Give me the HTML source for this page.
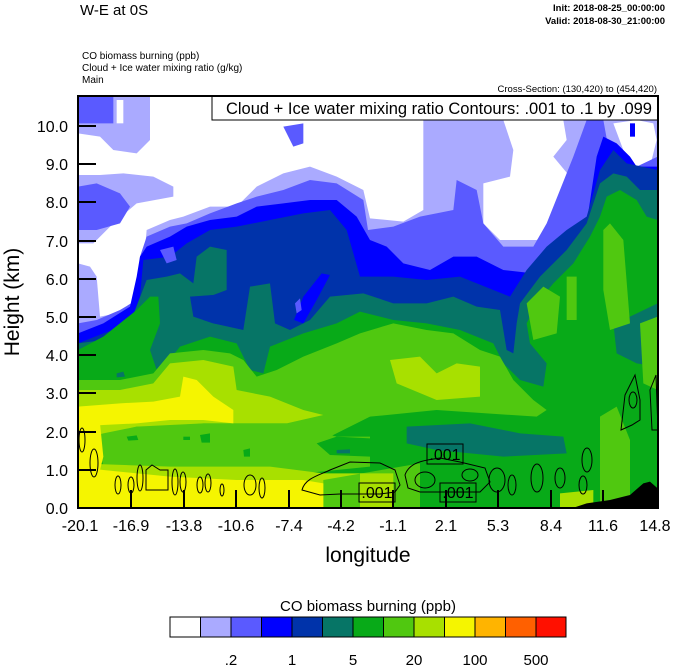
<!DOCTYPE html>
<html><head><meta charset="utf-8"><style>
html,body{margin:0;padding:0;background:#fff;}
svg{display:block;font-family:"Liberation Sans",sans-serif;}
</style></head><body>
<svg width="674" height="667" viewBox="0 0 674 667" xmlns="http://www.w3.org/2000/svg">
<defs><clipPath id="pc"><rect x="78" y="96" width="580" height="412"/></clipPath></defs>
<g clip-path="url(#pc)">
<rect x="78" y="96" width="580" height="412" fill="#aaaaff"/>
<g transform="translate(70,90) scale(0.33333)">
<polygon fill="#ffffff" points="240,20 1060,20 1060,360 1000,395 900,385 880,300 800,260 720,230 640,250 560,290 500,350 420,350 340,380 300,390 230,420 210,640 140,670 90,680 80,560 60,530 24,520 24,460 70,460 130,400 200,340 310,320 310,290 250,260 160,250 90,255 24,255 24,130 90,140 130,180 200,190 240,150"/>
<polygon fill="#ffffff" points="1300,90 1480,90 1490,150 1450,200 1500,260 1520,300 1500,400 1400,450 1290,450 1240,400 1240,280 1320,260 1330,180"/>
<polygon fill="#ffffff" points="1630,100 1700,90 1750,100 1760,150 1740,230 1700,250 1660,180"/>
<polygon fill="#ffffff" points="140,30 160,30 160,100 140,100"/>
<polygon fill="#5a5aff" points="24,20 130,20 130,100 24,100"/>
<polygon fill="#5a5aff" points="24,290 80,280 150,310 180,350 150,400 80,420 24,420"/>
<polygon fill="#5a5aff" points="640,110 700,100 700,160 670,170"/>
<polygon fill="#5a5aff" points="24,700 80,690 150,660 200,630 210,500 230,440 300,410 350,400 420,370 500,340 560,320 640,300 720,270 800,280 880,330 894,420 970,410 1050,380 1150,360 1160,270 1220,300 1240,400 1300,470 1390,470 1430,400 1470,300 1510,200 1550,90 1600,90 1620,200 1650,260 1700,230 1763,200 1763,1260 24,1260"/>
<polygon fill="#0000ff" points="24,730 100,700 180,650 200,560 210,500 230,470 300,440 350,410 420,390 500,380 560,350 640,340 720,330 800,330 860,380 900,450 950,470 1000,520 1080,540 1150,500 1220,500 1300,540 1390,550 1440,510 1500,470 1550,400 1580,200 1600,140 1640,160 1680,200 1700,230 1763,230 1763,1260 24,1260"/>
<polygon fill="#0000ff" points="1680,100 1695,100 1695,140 1680,140"/>
<polygon fill="#0033aa" points="24,760 100,730 180,700 210,620 220,510 300,500 350,460 420,420 500,410 600,390 700,370 780,360 830,420 870,560 970,560 1070,570 1170,560 1270,600 1320,620 1370,540 1430,470 1490,420 1550,380 1590,240 1630,180 1670,220 1763,240 1763,1260 24,1260"/>
<polygon fill="#5a5aff" points="270,480 310,470 320,510 290,520"/>
<polygon fill="#067566" points="24,760 100,750 180,700 230,570 290,560 330,550 370,580 380,500 420,470 470,480 470,600 430,615 380,620 370,660 400,690 430,700 520,720 540,590 600,580 615,700 660,720 720,690 780,620 880,610 970,640 1070,640 1150,620 1220,650 1290,660 1310,780 1330,790 1340,700 1350,640 1410,560 1490,480 1550,400 1590,280 1630,250 1670,260 1710,300 1763,300 1763,1260 24,1260"/>
<polygon fill="#0033aa" points="360,620 430,615 470,610 500,640 520,715 430,700 400,690 370,680"/>
<polygon fill="#0000ff" points="700,620 755,550 780,555 740,630 700,700 672,690"/>
<polygon fill="#5a5aff" points="675,640 690,625 695,660 680,670"/>
<polygon fill="#08aa18" points="24,780 100,740 200,660 240,620 265,620 270,700 240,780 260,840 290,820 330,770 420,740 500,760 540,840 580,850 600,770 700,730 800,700 870,665 970,690 1070,700 1170,720 1270,760 1300,820 1350,870 1420,890 1430,820 1380,760 1370,700 1400,640 1450,580 1510,520 1560,440 1590,380 1610,320 1650,300 1700,330 1730,380 1763,390 1763,1260 24,1260"/>
<polygon fill="#067566" points="1630,700 1680,680 1763,640 1763,830 1700,820 1640,790"/>
<polygon fill="#067566" points="140,850 160,845 165,860 140,862"/>
<polygon fill="#50c810" points="24,870 150,870 250,850 300,790 400,780 480,790 520,810 560,860 620,840 700,800 800,760 870,730 970,700 1070,720 1150,730 1230,780 1290,800 1330,870 1390,930 1430,960 1400,980 1100,960 900,980 780,1040 24,1040"/>
<polygon fill="#50c810" points="1600,420 1620,400 1660,450 1680,700 1620,720 1600,600"/>
<polygon fill="#50c810" points="1370,640 1420,590 1470,620 1460,730 1390,750"/>
<polygon fill="#50c810" points="1490,560 1520,560 1520,690 1490,690"/>
<polygon fill="#50c810" points="1710,700 1763,680 1763,900 1720,880"/>
<polygon fill="#50c810" points="1590,980 1640,950 1680,1050 1680,1255 1590,1255"/>
<polygon fill="#a8e000" points="24,900 150,900 250,880 300,820 400,810 490,830 500,900 600,920 700,960 760,975 650,1000 500,1000 400,1000 300,1010 200,1010 100,1030 24,1050"/>
<polygon fill="#a8e000" points="960,810 1050,800 1100,850 1160,820 1230,830 1230,920 1100,930 980,880"/>
<polygon fill="#50c810" points="80,1040 200,1010 400,1000 650,1000 800,1040 900,1040 900,1130 700,1150 600,1140 400,1140 200,1150 100,1130"/>
<polygon fill="#08aa18" points="170,1040 200,1036 205,1050 175,1052"/>
<polygon fill="#08aa18" points="390,1035 420,1030 420,1058 395,1058"/>
<polygon fill="#08aa18" points="340,1040 360,1040 360,1050 340,1050"/>
<polygon fill="#08aa18" points="520,1080 540,1075 540,1100 522,1100"/>
<polygon fill="#08aa18" points="740,1060 800,1040 900,1045 900,1100 780,1095"/>
<polygon fill="#067566" points="1010,1010 1200,1000 1350,1030 1480,1040 1490,1090 1300,1100 1100,1080 1010,1060"/>
<polygon fill="#067566" points="800,1080 840,1078 840,1090 800,1090"/>
<polygon fill="#a8e000" points="24,1120 300,1130 600,1130 760,1150 900,1150 1050,1140 1050,1255 24,1255"/>
<polygon fill="#50c810" points="760,1170 1050,1120 1050,1255 760,1255"/>
<polygon fill="#a8e000" points="870,1150 970,1150 970,1255 870,1255"/>
<polygon fill="#a8e000" points="1470,1210 1570,1200 1570,1255 1470,1255"/>
<polygon fill="#f5f500" points="24,950 150,940 250,935 330,920 340,860 380,870 430,920 490,960 490,1000 400,990 300,990 200,1000 100,1005 24,1010"/>
<polygon fill="#f5f500" points="24,1000 90,1000 100,1100 90,1140 24,1140"/>
<polygon fill="#f5f500" points="24,1130 100,1140 300,1160 500,1170 700,1170 760,1180 760,1255 24,1255"/>
<polygon fill="#000" points="1490,1260 1550,1240 1620,1230 1680,1215 1720,1180 1740,1175 1763,1195 1763,1260"/>
</g>
<g fill="none" stroke="#000" stroke-width="1">
<ellipse cx="82" cy="440" rx="3" ry="12"/>
<ellipse cx="94" cy="463" rx="4" ry="14"/>
<ellipse cx="118" cy="485" rx="3" ry="9"/>
<ellipse cx="131" cy="485" rx="3" ry="8"/>
<ellipse cx="140" cy="478" rx="3" ry="13"/>
<path d="M146,490 L146,470 L152,465 L160,470 L168,470 L168,490 Z"/>
<ellipse cx="175" cy="482" rx="3" ry="13"/>
<ellipse cx="183" cy="482" rx="3" ry="10"/>
<ellipse cx="200" cy="485" rx="3" ry="8"/>
<ellipse cx="208" cy="483" rx="3" ry="9"/>
<ellipse cx="222" cy="490" rx="2" ry="6"/>
<ellipse cx="250" cy="485" rx="6" ry="10"/>
<ellipse cx="262" cy="488" rx="3" ry="10"/>
<path d="M302,490 C305,478 320,475 330,470 L350,462 L380,463 L395,470 L400,485 L395,492 L380,494 L340,494 L320,495 Z"/>
<path d="M405,475 C410,460 430,460 440,458 L460,462 L485,468 L490,482 L480,492 L450,492 L420,492 L408,488 Z"/>
<ellipse cx="425" cy="480" rx="10" ry="8"/>
<ellipse cx="470" cy="475" rx="8" ry="6"/>
<ellipse cx="497" cy="480" rx="8" ry="12"/>
<ellipse cx="512" cy="485" rx="4" ry="10"/>
<ellipse cx="537" cy="478" rx="6" ry="14"/>
<ellipse cx="560" cy="478" rx="5" ry="10"/>
<ellipse cx="583" cy="485" rx="4" ry="9"/>
<ellipse cx="587" cy="460" rx="5" ry="12"/>
<path d="M621,430 L625,395 L635,375 L640,400 L640,420 L632,425 Z"/>
<ellipse cx="633" cy="400" rx="4" ry="8"/>
<path d="M652,430 L650,390 L656,375 L658,430 Z"/>
</g>
<g font-size="16" font-family="Liberation Sans,sans-serif">
<rect x="427" y="444" width="36" height="20" fill="none" stroke="#000"/>
<text x="445" y="460" text-anchor="middle">.001</text>
<rect x="359" y="483" width="36" height="19" fill="none" stroke="#000"/>
<text x="377" y="498" text-anchor="middle">.001</text>
<rect x="440" y="483" width="36" height="19" fill="none" stroke="#000"/>
<text x="458" y="498" text-anchor="middle">.001</text>
</g>
</g>
<rect x="212" y="96" width="446" height="24" fill="#fff" stroke="#000" stroke-width="1"/>
<text x="652" y="114" font-size="16.5" text-anchor="end">Cloud + Ice water mixing ratio Contours: .001 to .1 by .099</text>
<rect x="78" y="96" width="580" height="412" fill="none" stroke="#000" stroke-width="2"/>
<g stroke="#000" stroke-width="2">
<line x1="78" y1="126" x2="96" y2="126"/><line x1="78" y1="164" x2="96" y2="164"/>
<line x1="78" y1="202" x2="96" y2="202"/><line x1="78" y1="241" x2="96" y2="241"/>
<line x1="78" y1="279" x2="96" y2="279"/><line x1="78" y1="317" x2="96" y2="317"/>
<line x1="78" y1="355" x2="96" y2="355"/><line x1="78" y1="393" x2="96" y2="393"/>
<line x1="78" y1="432" x2="96" y2="432"/><line x1="78" y1="470" x2="96" y2="470"/>
<line x1="131" y1="508" x2="131" y2="490"/><line x1="184" y1="508" x2="184" y2="490"/>
<line x1="236" y1="508" x2="236" y2="490"/><line x1="289" y1="508" x2="289" y2="490"/>
<line x1="341" y1="508" x2="341" y2="490"/><line x1="393" y1="508" x2="393" y2="490"/>
<line x1="446" y1="508" x2="446" y2="490"/><line x1="498" y1="508" x2="498" y2="490"/>
<line x1="551" y1="508" x2="551" y2="490"/><line x1="603" y1="508" x2="603" y2="490"/>
</g>
<g font-size="16" text-anchor="end">
<text x="68" y="132">10.0</text><text x="68" y="170">9.0</text><text x="68" y="208">8.0</text>
<text x="68" y="247">7.0</text><text x="68" y="285">6.0</text><text x="68" y="323">5.0</text>
<text x="68" y="361">4.0</text><text x="68" y="399">3.0</text><text x="68" y="438">2.0</text>
<text x="68" y="476">1.0</text><text x="68" y="514">0.0</text>
</g>
<g font-size="16" text-anchor="middle">
<text x="80" y="531">-20.1</text><text x="131" y="531">-16.9</text><text x="184" y="531">-13.8</text>
<text x="236" y="531">-10.6</text><text x="289" y="531">-7.4</text><text x="341" y="531">-4.2</text>
<text x="393" y="531">-1.1</text><text x="446" y="531">2.1</text><text x="498" y="531">5.3</text>
<text x="551" y="531">8.4</text><text x="603" y="531">11.6</text><text x="655" y="531">14.8</text>
</g>
<text x="368" y="562" font-size="21" text-anchor="middle">longitude</text>
<text transform="translate(19,302) rotate(-90)" font-size="21" text-anchor="middle">Height (km)</text>
<text x="80" y="15" font-size="15">W-E at 0S</text>
<g font-size="9.5" text-anchor="end" font-weight="bold">
<text x="665" y="11">Init: 2018-08-25_00:00:00</text>
<text x="665" y="24">Valid: 2018-08-30_21:00:00</text>
<text x="657" y="92" font-weight="normal">Cross-Section: (130,420) to (454,420)</text>
</g>
<g font-size="10">
<text x="82" y="59">CO biomass burning   (ppb)</text>
<text x="82" y="71">Cloud + Ice water mixing ratio   (g/kg)</text>
<text x="82" y="83">Main</text>
</g>
<text x="368" y="611" font-size="15" text-anchor="middle">CO biomass burning  (ppb)</text>
<g stroke="#000" stroke-width="1">
<rect x="170.0" y="617" width="30.5" height="20" fill="#ffffff"/>
<rect x="200.5" y="617" width="30.5" height="20" fill="#aaaaff"/>
<rect x="231.0" y="617" width="30.5" height="20" fill="#5a5aff"/>
<rect x="261.5" y="617" width="30.5" height="20" fill="#0000ff"/>
<rect x="292.0" y="617" width="30.5" height="20" fill="#0033aa"/>
<rect x="322.5" y="617" width="30.5" height="20" fill="#067566"/>
<rect x="353.0" y="617" width="30.5" height="20" fill="#08aa18"/>
<rect x="383.5" y="617" width="30.5" height="20" fill="#50c810"/>
<rect x="414.0" y="617" width="30.5" height="20" fill="#a8e000"/>
<rect x="444.5" y="617" width="30.5" height="20" fill="#f5f500"/>
<rect x="475.0" y="617" width="30.5" height="20" fill="#ffb400"/>
<rect x="505.5" y="617" width="30.5" height="20" fill="#ff6000"/>
<rect x="536.0" y="617" width="30.0" height="20" fill="#ff1000"/>
</g>
<g font-size="15" text-anchor="middle">
<text x="231" y="665">.2</text><text x="292" y="665">1</text><text x="353" y="665">5</text>
<text x="414" y="665">20</text><text x="475" y="665">100</text><text x="536" y="665">500</text>
</g>
</svg>
</body></html>
